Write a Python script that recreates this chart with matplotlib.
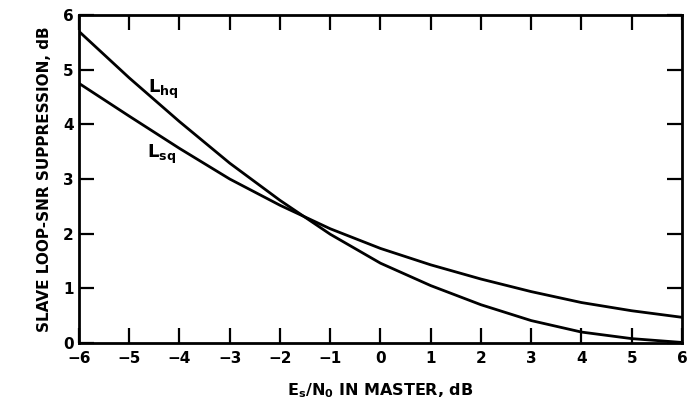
import matplotlib
matplotlib.use("Agg")
import matplotlib.pyplot as plt

# E_s/N_0 in master loop, dB
es_n0_db = [-6, -5, -4, -3, -2, -1, 0, 1, 2, 3, 4, 5, 6]
# Slave loop SNR suppression, dB
l_hq = [5.70, 4.85, 4.05, 3.29, 2.61, 1.99, 1.46, 1.05, 0.70, 0.41, 0.20, 0.08, 0.01]
l_sq = [4.75, 4.15, 3.56, 3.00, 2.52, 2.09, 1.73, 1.43, 1.17, 0.94, 0.74, 0.59, 0.47]

x_ticks = list(range(-6, 7))
y_ticks = list(range(0, 7))

plt.rcParams["font.family"] = ["DejaVu Sans"]
plt.rcParams["font.weight"] = "bold"
plt.rcParams["mathtext.fontset"] = "dejavusans"
plt.rcParams["mathtext.default"] = "bf"

fig = plt.figure(figsize=(6.93, 4.12), dpi=100)
ax = fig.add_axes([0.114, 0.1675, 0.870, 0.796])

ax.plot(es_n0_db, l_hq, color="black", lw=2.0, solid_joinstyle="round")
ax.plot(es_n0_db, l_sq, color="black", lw=2.0, solid_joinstyle="round")

ax.set_xlim(-6, 6)
ax.set_ylim(0, 6)
ax.set_xticks(x_ticks)
ax.set_yticks(y_ticks)

for s in ax.spines.values():
    s.set_linewidth(2.0)

ax.tick_params(axis="both", which="major", direction="in", length=11, width=1.6,
               top=True, right=True, labelsize=11)
ax.tick_params(axis="x", pad=6)
ax.tick_params(axis="y", pad=4)
for lab in ax.get_xticklabels() + ax.get_yticklabels():
    lab.set_fontweight("bold")

ax.set_ylabel("SLAVE LOOP-SNR SUPPRESSION, dB", fontsize=11, fontweight="bold", labelpad=8)
ax.set_xlabel(r"E$_s$/N$_0$ IN MASTER, dB", fontsize=11.5, fontweight="bold", labelpad=11)

ax.text(-4.63, 4.57, r"L$_{hq}$", fontsize=13, fontweight="bold", ha="left", va="baseline")
ax.text(-4.65, 3.38, r"L$_{sq}$", fontsize=13, fontweight="bold", ha="left", va="baseline")

fig.savefig("out.png", dpi=100)
